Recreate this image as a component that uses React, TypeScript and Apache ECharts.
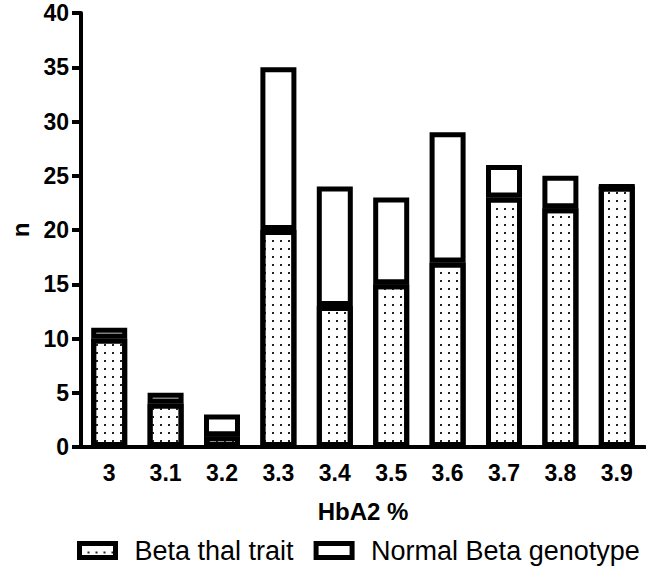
import React, { useEffect, useRef } from "react";
import * as echarts from "echarts";

const categories = ["3", "3.1", "3.2", "3.3", "3.4", "3.5", "3.6", "3.7", "3.8", "3.9"];
const betaThal = [10, 4, 1, 20, 13, 15, 17, 23, 22, 24];
const normalBeta = [1, 1, 2, 15, 11, 8, 12, 3, 3, 0];
const seriesNames = ["Beta thal trait", "Normal Beta genotype"];

const FONT = "Arial, 'Liberation Sans', sans-serif";

export default function App() {
  const ref = useRef<HTMLDivElement>(null);
  useEffect(() => {
    if (!ref.current) return;
    const chart = echarts.init(ref.current, undefined, { renderer: "svg" });
    const border = { borderColor: "#000", borderWidth: 5 };
    chart.setOption({
      animation: false,
      backgroundColor: "#fff",
      grid: { left: 81, right: 1, top: 13, bottom: 124 },
      legend: {
        left: 72,
        top: 532,
        itemWidth: 36,
        itemHeight: 14,
        itemGap: 20,
        icon: "rect",
        itemStyle: { borderWidth: 5, borderColor: "#000" },
        textStyle: { fontFamily: FONT, fontSize: 27, color: "#000", padding: [0, 0, 0, 14] },
        data: seriesNames,
      },
      xAxis: {
        type: "category",
        data: categories,
        name: "HbA2 %",
        nameLocation: "middle",
        nameGap: 52,
        nameTextStyle: { fontFamily: FONT, fontSize: 24, fontWeight: "bold", color: "#000" },
        axisLine: { lineStyle: { color: "#000", width: 4 } },
        axisTick: { alignWithLabel: true, length: 9, lineStyle: { color: "#000", width: 4 } },
        axisLabel: { fontFamily: FONT, fontSize: 23, fontWeight: "bold", color: "#000", margin: 14 },
      },
      yAxis: {
        type: "value",
        min: 0,
        max: 40,
        interval: 5,
        name: "n",
        nameLocation: "middle",
        nameGap: 48,
        nameTextStyle: { fontFamily: FONT, fontSize: 24, fontWeight: "bold", color: "#000" },
        axisLine: { show: true, lineStyle: { color: "#000", width: 4 } },
        axisTick: { show: true, length: 9, lineStyle: { color: "#000", width: 4 } },
        splitLine: { show: false },
        axisLabel: { fontFamily: FONT, fontSize: 23, fontWeight: "bold", color: "#000", margin: 12 },
      },
      series: [
        {
          name: seriesNames[0],
          type: "bar",
          stack: "total",
          barWidth: 36,
          data: betaThal,
          itemStyle: {
            color: "#fff",
            ...border,
            decal: {
              symbol: "rect",
              symbolSize: 1,
              color: "#222",
              dashArrayX: [1.3, 5.4],
              dashArrayY: [1.3, 5.4],
              rotation: 0,
            },
          },
        },
        {
          name: seriesNames[1],
          type: "bar",
          stack: "total",
          barWidth: 36,
          data: normalBeta,
          itemStyle: { color: "#fff", ...border },
        },
      ],
    });
    return () => chart.dispose();
  }, []);
  return (
    <div
      ref={ref}
      style={{ position: "fixed", left: 0, top: 0, width: 646, height: 571, background: "#fff" }}
    />
  );
}
